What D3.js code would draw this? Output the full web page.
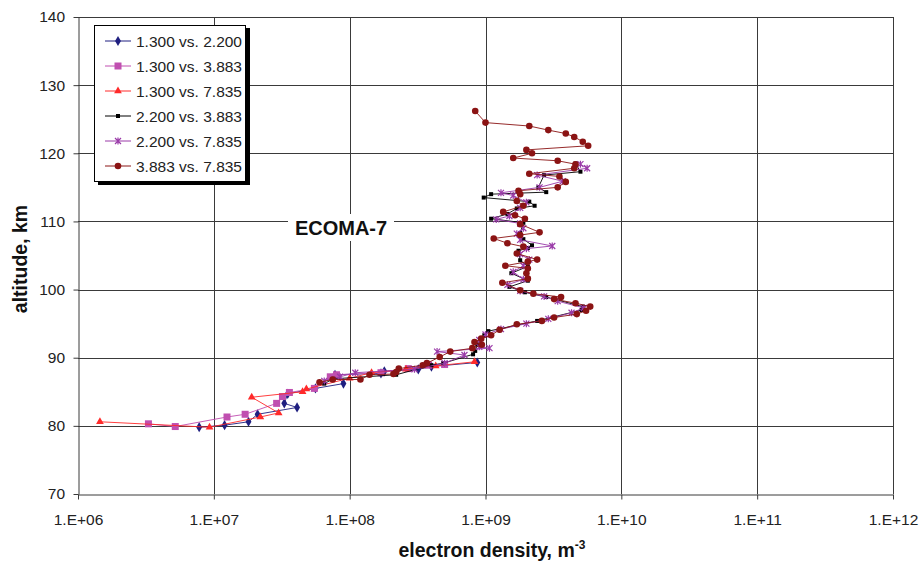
<!DOCTYPE html>
<html>
<head>
<meta charset="utf-8">
<script src="https://cdn.jsdelivr.net/npm/d3@7"></script>
<style>
  body { margin: 0; background: #fff; }
  svg { font-family: "Liberation Sans", Arial, sans-serif; }
</style>
</head>
<body>
<svg id="chart" width="921" height="565"></svg>
<script>
// Electron density profiles (m^-3) vs altitude (km), one pair of arrays per probe combination
const alt_13_22 = [79.8, 80.1, 80.6, 81.7, 82.7, 83.3, 84.7, 85.5, 86.2, 87.5, 87.7, 88.0, 88.3, 88.7, 89.3];
const ne_13_22  = [7.8e6, 1.2e7, 1.8e7, 2.1e7, 4.1e7, 3.3e7, 3.5e7, 5.6e7, 9.0e7, 7.8e7, 1.7e8, 1.8e8, 3.2e8, 4.0e8, 8.7e8];

const alt_13_39 = [80.3, 79.9, 81.3, 81.7, 83.3, 84.3, 84.9, 85.5, 87.2, 87.5, 87.8, 88.4, 88.9, 89.0];
const ne_13_39  = [3.3e6, 5.2e6, 1.25e7, 1.7e7, 2.9e7, 3.2e7, 3.6e7, 5.5e7, 7.2e7, 8.0e7, 1.7e8, 2.7e8, 3.8e8, 5.0e8];

const alt_13_78 = [80.6, 79.8, 81.3, 81.9, 84.2, 85.0, 85.4, 87.0, 87.8, 88.3, 88.8, 89.4];
const ne_13_78  = [1.45e6, 9.3e6, 2.2e7, 3.0e7, 1.9e7, 4.5e7, 4.8e7, 1.0e8, 1.45e8, 2.6e8, 4.3e8, 8.3e8];

const alt_22_39 = [118.5, 117.3, 116.8, 115.0, 114.3, 114.0, 113.5, 112.9, 112.3, 111.9, 111.1, 110.4, 109.8, 108.3,
                   107.4, 106.5, 106.1, 105.7, 104.3, 103.4, 102.4, 101.3, 100.4, 99.6, 98.9, 97.5, 97.0, 95.4,
                   93.9, 93.3, 91.9, 91.0, 90.5, 89.2, 88.9, 87.5, 86.9, 86.2];
const ne_22_39  = [4.6e9, 5.0e9, 2.7e9, 2.45e9, 2.8e9, 1.1e9, 9.7e8, 2.1e9, 2.3e9, 1.7e9, 1.45e9, 1.1e9, 1.9e9, 1.8e9,
                   1.9e9, 2.2e9, 2.05e9, 1.75e9, 1.8e9, 2.05e9, 1.55e9, 2.05e9, 1.5e9, 1.95e9, 2.8e9, 5.2e9, 5.1e9, 2.4e9,
                   1.05e9, 9.8e8, 8.7e8, 8.4e8, 8.1e8, 4.9e8, 4.0e8, 2.2e8, 7.6e7, 6.5e7];

const alt_22_78 = [118.4, 117.8, 116.8, 115.9, 115.0, 114.2, 113.8, 112.8, 112.0, 110.8, 110.3, 109.7, 109.0, 108.2,
                   107.3, 106.4, 106.0, 105.2, 104.4, 103.5, 102.6, 101.5, 100.7, 99.8, 99.0, 98.3, 97.3, 96.6,
                   95.7, 95.0, 94.2, 93.4, 92.6, 91.6, 91.4, 90.9, 90.4, 89.2, 88.3, 87.8, 87.2, 86.6];
const ne_22_78  = [5.0e9, 5.6e9, 2.4e9, 3.7e9, 2.5e9, 1.3e9, 1.6e9, 2.0e9, 1.8e9, 1.5e9, 1.2e9, 1.8e9, 1.9e9, 1.7e9,
                   1.8e9, 3.1e9, 2.0e9, 1.8e9, 2.1e9, 1.9e9, 1.6e9, 1.9e9, 1.45e9, 1.8e9, 2.7e9, 3.4e9, 5.3e9, 4.3e9,
                   2.9e9, 2.0e9, 1.3e9, 1.0e9, 9.0e8, 9.0e8, 1.07e9, 4.4e8, 7.0e8, 5.0e8, 3.0e8, 1.1e8, 8.5e7, 6.5e7];

const alt_39_78 = [126.2, 124.5, 124.0, 123.4, 122.9, 122.4, 121.7, 121.1, 120.5, 120.0, 119.3, 118.9, 118.4, 117.8,
                   117.0, 116.6, 115.8, 115.0, 114.5, 114.0, 113.0, 112.3, 111.4, 110.9, 110.4, 109.6, 108.4, 108.0,
                   107.5, 106.8, 106.3, 105.3, 104.4, 104.1, 103.5, 103.1, 102.4, 101.6, 101.0, 99.9, 99.4, 98.9,
                   98.6, 98.0, 97.5, 96.9, 96.4, 95.9, 95.4, 94.9, 94.1, 93.3, 92.8, 92.3, 91.9, 91.4, 90.9, 90.1,
                   89.2, 88.9, 88.4, 87.9, 87.6, 87.5, 86.8, 86.8, 86.4];
const ne_39_78  = [8.4e8, 1.0e9, 2.1e9, 2.9e9, 3.9e9, 4.5e9, 5.2e9, 5.7e9, 2.0e9, 2.2e9, 1.6e9, 3.4e9, 4.6e9, 4.5e9,
                   2.1e9, 3.5e9, 3.9e9, 3.4e9, 1.75e9, 1.8e9, 1.7e9, 1.9e9, 1.35e9, 1.65e9, 1.95e9, 1.8e9, 2.5e9, 1.8e9,
                   1.15e9, 1.45e9, 1.9e9, 1.7e9, 2.4e9, 2.05e9, 1.4e9, 2.05e9, 2.0e9, 2.05e9, 1.33e9, 1.8e9, 2.25e9, 3.6e9,
                   3.2e9, 4.6e9, 5.9e9, 5.5e9, 4.7e9, 3.2e9, 2.6e9, 1.7e9, 1.27e9, 1.1e9, 9.3e8, 8.3e8, 9.4e8, 8.0e8, 5.5e8, 4.6e8,
                   3.7e8, 3.45e8, 2.3e8, 2.2e8, 2.1e8, 1.4e8, 1.2e8, 7.5e7, 6.0e7];

const seriesNames = ["1.300 vs. 2.200", "1.300 vs. 3.883", "1.300 vs. 7.835",
                     "2.200 vs. 3.883", "2.200 vs. 7.835", "3.883 vs. 7.835"];
const xTicks = [1e6, 1e7, 1e8, 1e9, 1e10, 1e11, 1e12];
const yTicks = [70, 80, 90, 100, 110, 120, 130, 140];

const series = [
  { name: seriesNames[0], alt: alt_13_22, ne: ne_13_22, color: "#1f1f80", marker: "diamond" },
  { name: seriesNames[1], alt: alt_13_39, ne: ne_13_39, color: "#c04fb0", marker: "square" },
  { name: seriesNames[2], alt: alt_13_78, ne: ne_13_78, color: "#ff2a2a", marker: "triangle" },
  { name: seriesNames[3], alt: alt_22_39, ne: ne_22_39, color: "#000000", marker: "smallsquare" },
  { name: seriesNames[4], alt: alt_22_78, ne: ne_22_78, color: "#9a3aa8", marker: "star" },
  { name: seriesNames[5], alt: alt_39_78, ne: ne_39_78, color: "#8b1414", marker: "circle" }
];

const svg = d3.select("#chart");
const plotLeft = 78, plotRight = 893, plotTop = 17, plotBottom = 494;

const x = d3.scaleLog().domain([1e6, 1e12]).range([plotLeft, plotRight]);
const y = d3.scaleLinear().domain([70, 140]).range([plotBottom, plotTop]);

// grid
const grid = svg.append("g").attr("stroke", "#3a3a3a").attr("stroke-width", 1);
grid.selectAll("line.v").data(xTicks.slice(1)).join("line")
  .attr("x1", d => Math.round(x(d)) + 0.5).attr("x2", d => Math.round(x(d)) + 0.5)
  .attr("y1", plotTop).attr("y2", plotBottom);
grid.selectAll("line.h").data(yTicks.slice(1)).join("line")
  .attr("x1", plotLeft).attr("x2", plotRight)
  .attr("y1", d => Math.round(y(d)) + 0.5).attr("y2", d => Math.round(y(d)) + 0.5);

// axes
const fmt = d => "1.E+" + String(Math.round(Math.log10(d))).padStart(2, "0");
const xAxis = svg.append("g").attr("transform", `translate(0,${plotBottom + 0.5})`)
  .call(d3.axisBottom(x).tickValues(xTicks).tickFormat(fmt).tickSize(5).tickSizeOuter(0));
const yAxis = svg.append("g").attr("transform", `translate(${plotLeft + 0.5},0)`)
  .call(d3.axisLeft(y).tickValues(yTicks).tickSize(5).tickSizeOuter(0));
[xAxis, yAxis].forEach(a => {
  a.select(".domain").attr("stroke", "#3a3a3a");
  a.selectAll(".tick line").attr("stroke", "#3a3a3a");
  a.selectAll("text").attr("font-family", "Liberation Sans, Arial, sans-serif")
    .attr("font-size", 15.5).attr("fill", "#222");
});
xAxis.selectAll("text").attr("dy", "1.45em");
yAxis.selectAll("text").attr("dx", "-0.35em");

// axis titles
svg.append("text").attr("x", 492).attr("y", 557).attr("text-anchor", "middle")
  .attr("font-size", 19.5).attr("font-weight", "bold").attr("fill", "#111")
  .text("electron density, m").append("tspan").attr("dy", -8).attr("font-size", 12).text("-3");
svg.append("text").attr("transform", "translate(27,259) rotate(-90)").attr("text-anchor", "middle")
  .attr("font-size", 19.5).attr("font-weight", "bold").attr("fill", "#111")
  .text("altitude, km");

// marker shapes
function drawMarker(g, type, color) {
  switch (type) {
    case "diamond":
      g.append("path").attr("d", d3.symbol(d3.symbolDiamond, 30)()).attr("fill", color); break;
    case "square":
      g.append("rect").attr("x", -3.5).attr("y", -3.5).attr("width", 7).attr("height", 7).attr("fill", color); break;
    case "triangle":
      g.append("path").attr("d", d3.symbol(d3.symbolTriangle, 26)()).attr("fill", color); break;
    case "smallsquare":
      g.append("rect").attr("x", -2).attr("y", -2).attr("width", 4).attr("height", 4).attr("fill", color); break;
    case "star":
      g.append("path").attr("d", "M-3,-3L3,3M-3,3L3,-3M0,-3.5L0,3.5").attr("stroke", color).attr("stroke-width", 1.2).attr("fill", "none"); break;
    case "circle":
      g.append("circle").attr("r", 3.3).attr("fill", color); break;
  }
}

// profiles
const line = d3.line().x(d => x(d[1])).y(d => y(d[0]));
series.forEach(s => {
  const pts = s.alt.map((a, i) => [a, s.ne[i]]);
  const g = svg.append("g");
  g.append("path").datum(pts).attr("d", line).attr("fill", "none")
    .attr("stroke", s.color).attr("stroke-width", 1).attr("stroke-opacity", 0.9);
  pts.forEach(p => {
    const m = g.append("g").attr("transform", `translate(${x(p[1])},${y(p[0])})`);
    drawMarker(m, s.marker, s.color);
  });
});

// legend with drop shadow
const lg = svg.append("g");
lg.append("rect").attr("x", 98).attr("y", 28).attr("width", 152).attr("height", 157).attr("fill", "#000");
lg.append("rect").attr("x", 94.5).attr("y", 25.5).attr("width", 151).attr("height", 156)
  .attr("fill", "#fff").attr("stroke", "#000").attr("stroke-width", 1);
series.forEach((s, i) => {
  const yy = 41 + i * 25;
  lg.append("line").attr("x1", 105).attr("x2", 131).attr("y1", yy).attr("y2", yy)
    .attr("stroke", s.color).attr("stroke-width", 1);
  drawMarker(lg.append("g").attr("transform", `translate(118,${yy})`), s.marker, s.color);
  lg.append("text").attr("x", 136).attr("y", yy + 5.5).attr("font-size", 15.5).attr("fill", "#222").text(s.name);
});

// experiment label
const lbl = svg.append("g");
lbl.append("rect").attr("x", 288).attr("y", 214).attr("width", 106).attr("height", 27).attr("fill", "#fff");
lbl.append("text").attr("x", 341).attr("y", 235).attr("text-anchor", "middle")
  .attr("font-size", 20).attr("font-weight", "bold").attr("fill", "#111").text("ECOMA-7");
</script>
</body>
</html>
